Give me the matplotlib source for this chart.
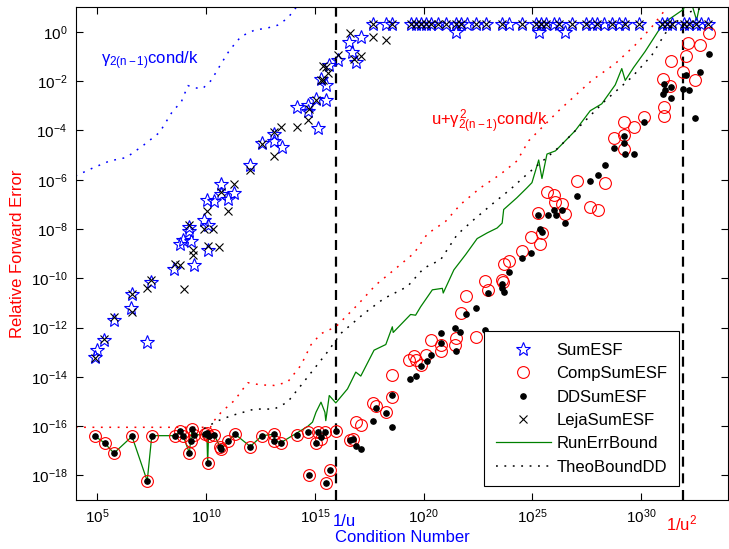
import matplotlib
matplotlib.use("Agg")
import matplotlib.pyplot as plt
import numpy as np
from matplotlib.ticker import NullLocator

# all values are log10(condition number) / log10(relative forward error),
# read off the original figure

# SumESF (blue stars)
sum_cond = [4.88, 5.00, 5.30, 7.29, 5.76, 6.56, 6.61, 7.48, 8.51, 8.78, 8.94, 9.22,
            9.23, 9.31, 9.42, 9.92, 10.07, 10.07, 10.03, 10.38, 10.69, 10.69, 11.02,
            11.30, 12.03, 12.55, 13.13, 13.13, 13.47, 14.17, 14.66, 14.66, 15.15,
            15.06, 15.28, 15.50, 15.50, 15.66, 16.04, 16.57, 16.72, 16.88, 17.11,
            21.51, 25.29, 26.51,
            17.67, 18.27, 18.54, 19.42, 19.65, 19.88, 20.10, 20.33, 20.66, 21.02,
            21.48, 21.71, 21.99, 22.40, 22.86, 23.59, 23.92, 24.51, 25.16, 25.39,
            25.62, 25.98, 26.21, 26.81, 27.45, 27.73, 27.96, 28.28, 28.64, 28.96,
            29.24, 29.88, 30.94, 31.17, 31.40, 31.95, 32.18, 32.50, 32.77, 33.09]
sum_err = [-13.20, -12.92, -12.51, -12.58, -11.70, -11.22, -10.64, -10.16, -9.63, -8.61,
           -8.43, -8.09, -7.90, -8.47, -9.45, -7.64, -7.82, -8.84, -6.83, -6.87, -6.16,
           -6.60, -6.78, -6.53, -5.40, -4.53, -4.15, -4.42, -4.67, -3.06, -2.96, -3.20,
           -3.92, -2.72, -1.90, -2.15, -2.76, -1.36, -1.13, -0.41, -0.82, -1.22, -0.20,
           -0.02, -0.02, -0.02,
           0.33, 0.33, 0.33, 0.33, 0.33, 0.33, 0.33, 0.33, 0.33, 0.33,
           0.33, 0.33, 0.33, 0.33, 0.33, 0.33, 0.33, 0.33, 0.33, 0.33,
           0.33, 0.33, 0.33, 0.33, 0.33, 0.33, 0.33, 0.33, 0.33, 0.33,
           0.33, 0.33, 0.33, 0.33, 0.33, 0.33, 0.33, 0.33, 0.33, 0.33]

# CompSumESF (red circles)
comp_cond = [4.91, 5.33, 5.76, 6.59, 7.29, 7.50, 8.55, 8.79, 8.94, 9.23, 9.28, 9.36,
             9.43, 9.95, 10.03, 10.07, 10.11, 10.38, 10.64, 10.69, 11.02, 11.33, 12.03,
             12.57, 13.13, 13.13, 13.44, 14.17, 14.66, 14.74, 15.12, 15.05, 15.30,
             15.46, 15.50, 15.70, 15.97,
             16.62, 16.77, 16.88, 17.11, 17.69, 17.80, 18.26, 18.56, 18.56, 19.33,
             19.56, 19.63, 19.86, 20.12, 20.35, 20.78, 20.81, 21.42, 21.51, 22.39,
             21.95, 21.70, 22.84, 22.96, 23.61, 23.64, 23.68, 23.91, 24.52, 24.95,
             25.37, 25.44, 25.24, 25.67, 26.01, 26.06, 26.36, 26.51, 27.05, 27.66,
             28.01, 28.32, 28.73, 29.23, 29.65, 29.23, 29.20, 30.11, 31.02, 31.33,
             31.38, 31.07, 31.07, 31.94, 32.05, 32.17, 32.48, 32.71, 33.12]
comp_err = [-16.42, -16.69, -17.10, -16.42, -18.23, -16.39, -16.39, -16.22, -16.39,
            -17.10, -16.61, -16.12, -16.37, -16.33, -16.28, -17.51, -16.39, -16.37,
            -16.86, -16.94, -16.61, -16.33, -16.83, -16.39, -16.33, -16.60, -16.67,
            -16.37, -16.26, -18.00, -16.26, -16.67, -16.53, -16.26, -18.33, -17.80,
            -16.20,
            -16.56, -16.53, -15.85, -15.96, -15.07, -15.20, -15.44, -13.94, -14.84,
            -13.33, -13.16, -13.33, -13.53, -13.13, -12.51, -12.72, -12.96, -12.69,
            -12.42, -12.38, -10.71, -11.43, -10.11, -10.47, -10.07, -10.16, -9.43,
            -9.32, -8.88, -8.34, -8.61, -8.16, -7.37, -6.50, -6.62, -6.90, -6.98,
            -7.39, -6.05, -7.11, -7.25, -6.12, -4.31, -3.67, -3.88, -4.18, -4.76,
            -3.47, -1.93, -2.18, -1.18, -3.03, -3.40, -1.63, -0.99, -0.47, -1.94,
            -0.54, -0.03]

# DDSumESF (black dots)
dd_cond = [4.91, 5.33, 5.76, 6.59, 7.29, 7.50, 8.55, 8.79, 8.94, 9.23, 9.28, 9.36,
           9.43, 9.95, 10.03, 10.07, 10.11, 10.38, 10.64, 10.69, 11.02, 11.33, 12.03,
           12.57, 13.13, 13.13, 13.44, 14.17, 14.66, 14.74, 15.12, 15.05, 15.28,
           15.46, 15.50, 15.70, 15.97,
           16.62, 16.77, 16.88, 17.11, 17.69, 17.80, 18.26, 18.56, 18.56, 19.37,
           19.63, 19.86, 20.14, 20.35, 20.81, 20.81, 21.51, 21.67, 21.44, 21.95,
           22.39, 22.84, 22.96, 23.58, 23.61, 23.68, 23.91, 24.52, 24.95, 25.37,
           25.44, 25.24, 25.70, 26.01, 26.08, 26.36, 26.51, 27.05, 27.66, 28.00,
           28.35, 28.73, 29.23, 29.23, 29.27, 29.65, 30.11, 31.07, 31.10, 31.02,
           31.38, 31.38, 31.94, 32.05, 32.20, 32.48, 32.71, 33.12]
dd_err = [-16.42, -16.69, -17.10, -16.42, -18.23, -16.39, -16.39, -16.22, -16.39,
          -17.10, -16.61, -16.12, -16.37, -16.33, -16.28, -17.51, -16.39, -16.37,
          -16.86, -16.94, -16.61, -16.33, -16.83, -16.39, -16.33, -16.60, -16.67,
          -16.37, -16.26, -18.00, -16.26, -16.67, -16.45, -16.26, -18.33, -17.80,
          -16.20,
          -16.56, -16.53, -16.80, -16.92, -15.81, -15.25, -15.48, -14.72, -16.05,
          -14.08, -13.98, -13.56, -13.37, -13.10, -12.61, -12.24, -12.96, -12.17,
          -12.01, -11.47, -11.20, -12.11, -10.61, -10.24, -10.38, -10.57, -9.73,
          -9.16, -8.98, -8.02, -8.12, -7.44, -7.44, -7.25, -7.44, -7.25, -7.76,
          -6.67, -6.05, -5.81, -5.40, -4.72, -4.22, -4.53, -4.94, -4.94, -3.67,
          -2.13, -2.35, -2.54, -2.22, -2.68, -2.31, -1.77, -2.35, -3.49, -1.63,
          -0.88]

# LejaSumESF (black crosses)
leja_cond = [4.91, 5.30, 5.76, 6.59, 6.59, 7.29, 7.48, 8.55, 8.79, 8.96, 9.23, 9.39,
             9.39, 9.92, 10.33, 10.07, 10.61, 10.05, 10.69, 11.02, 11.30, 12.03,
             12.55, 13.13, 13.13, 13.44, 14.17, 14.66, 14.75, 15.05, 15.35, 15.28,
             15.39, 15.58, 15.50, 16.04, 16.62, 16.80, 17.11, 17.69, 18.26,
             17.67, 18.54, 19.42, 19.65, 19.88, 20.10, 20.33, 20.66, 21.02, 21.48,
             21.71, 22.40, 22.86, 23.59, 24.51, 25.16, 25.39, 25.62, 26.21, 26.81,
             27.45, 27.96, 28.64, 29.24, 29.88, 30.94, 31.17, 31.40, 31.95, 32.18,
             32.50, 33.09]
leja_err = [-13.24, -12.47, -11.56, -10.65, -11.39, -10.38, -10.07, -9.43, -9.48,
            -10.42, -7.82, -8.84, -9.07, -8.02, -8.02, -8.71, -8.73, -7.28, -6.49,
            -7.28, -6.16, -5.62, -4.56, -4.08, -5.03, -3.85, -3.88, -3.58, -3.13,
            -2.76, -1.40, -1.97, -1.97, -1.67, -1.43, -0.92, -0.04, -1.09, -0.99,
            -0.20, -0.34,
            0.33, 0.33, 0.33, 0.33, 0.33, 0.33, 0.33, 0.33, 0.33, 0.33,
            0.33, 0.33, 0.33, 0.33, 0.33, 0.33, 0.33, 0.33, 0.33, 0.33,
            0.33, 0.33, 0.33, 0.33, 0.33, 0.33, 0.33, 0.33, 0.33, 0.33,
            0.33, 0.33]

# RunErrBound (green line)
run_cond = [4.91, 5.33, 5.76, 6.59, 7.29, 7.50, 8.55, 8.79, 8.94, 9.23, 9.28, 9.36,
            9.43, 9.95, 10.03, 10.07, 10.11, 10.38, 10.64, 10.69, 11.02, 11.33,
            12.03, 12.57, 13.13, 13.13, 13.44, 14.66, 14.89, 15.05, 15.28, 15.46,
            15.50, 15.66, 15.96, 16.50, 16.88, 17.11, 17.72, 18.26, 18.56, 18.60,
            19.40, 19.63, 19.86, 20.40, 20.86, 20.90, 21.39, 21.93, 22.46, 22.92,
            23.38, 23.61, 23.68, 24.29, 24.75, 24.98, 25.29, 25.44, 25.67, 26.06,
            26.97, 27.66, 28.19, 28.81, 29.11, 29.27, 29.65, 30.18, 31.02, 31.94,
            32.20, 32.55, 32.80]
run_err = [-16.42, -16.69, -17.10, -16.42, -18.23, -16.39, -16.39, -16.22, -16.39,
           -17.10, -16.61, -16.12, -16.37, -16.33, -16.28, -17.51, -16.39, -16.37,
           -16.86, -16.94, -16.61, -16.33, -16.83, -16.39, -16.33, -16.60, -16.67,
           -16.02, -15.84, -15.44, -15.03, -15.44, -15.78, -14.76, -15.06, -14.49,
           -13.81, -13.97, -12.92, -12.69, -11.97, -12.20, -11.47, -11.50, -11.16,
           -10.47, -10.41, -10.60, -9.66, -9.04, -8.39, -8.16, -7.96, -7.76, -7.21,
           -6.73, -6.33, -6.12, -5.20, -5.95, -4.96, -4.83, -4.01, -3.20, -2.92,
           -2.15, -1.49, -1.97, -1.45, -0.80, 0.35, 0.91, 1.50, 0.48, 1.50]

# TheoBoundDD (black dotted)
theo_cond = [9.90, 10.50, 11.15, 12.22, 13.13, 13.74, 14.36, 14.97, 15.58, 16.19,
             17.26, 18.18, 19.25, 20.01, 20.78, 21.54, 22.31, 23.22, 23.99, 24.75,
             26.21, 27.12, 28.35, 29.57, 30.49, 31.10, 32.02, 32.78]
theo_err = [-16.10, -15.80, -15.58, -15.31, -15.31, -15.03, -14.35, -13.67, -12.99,
            -12.24, -11.43, -10.82, -10.34, -9.59, -9.25, -8.23, -7.62, -6.94, -6.39,
            -5.78, -4.69, -3.88, -2.79, -1.84, -0.95, -0.07, 0.75, 0.96]

# u + gamma^2 cond/k (red dotted)
comp_bound_cond = [4.00, 10.20, 10.30, 10.69, 11.30, 11.91, 12.52, 13.13, 13.74, 14.36,
                   14.82, 15.28, 15.96, 16.95, 17.80, 18.64, 19.56, 20.17, 21.01,
                   21.70, 22.61, 23.53, 24.29, 24.83, 26.21, 27.73, 28.81, 29.72,
                   30.49, 31.10, 31.50]
comp_bound_err = [-16.05, -16.05, -15.85, -15.44, -14.96, -14.24, -14.33, -14.35,
                  -14.22, -13.53, -12.70, -12.25, -11.97, -11.09, -10.27, -9.66,
                  -8.98, -8.20, -7.69, -7.00, -6.33, -5.78, -5.24, -4.42, -3.20,
                  -1.97, -1.29, -0.54, 0.20, 0.89, 1.30]

# gamma cond/k (blue dotted)
sum_bound_cond = [3.99, 4.80, 5.56, 6.33, 7.09, 7.86, 8.47, 8.85, 9.16, 9.46, 9.84,
                  10.23, 10.69, 11.07, 11.61, 12.22, 12.83, 13.28, 13.74, 14.05, 14.28]
sum_bound_err = [-5.85, -5.52, -5.24, -5.10, -4.62, -4.08, -3.20, -2.86, -2.18, -2.27,
                 -2.30, -1.97, -1.29, -0.75, -0.18, 0.07, 0.16, 0.27, 0.55, 0.89, 1.17]

u = 2.0 ** -53

x_ticks = [1e5, 1e10, 1e15, 1e20, 1e25, 1e30]
y_ticks = [1e0, 1e-2, 1e-4, 1e-6, 1e-8, 1e-10, 1e-12, 1e-14, 1e-16, 1e-18]


def p(values):
    return 10.0 ** np.asarray(values)


plt.rcParams["font.family"] = ["Liberation Sans", "DejaVu Sans"]
plt.rcParams["mathtext.fontset"] = "custom"
plt.rcParams["mathtext.rm"] = "Liberation Sans"
plt.rcParams["mathtext.it"] = "Liberation Sans"
plt.rcParams["mathtext.bf"] = "Liberation Sans:bold"

fig = plt.figure(figsize=(7.29, 5.49), dpi=100)
ax = fig.add_axes([0.1038, 0.0893, 0.8950, 0.8975])

ax.plot(p(sum_cond), p(sum_err), ls="none", marker="*", ms=10, mfc="none",
        mec="blue", mew=0.8, label="SumESF")
ax.plot(p(comp_cond), p(comp_err), ls="none", marker="o", ms=8.5, mfc="none",
        mec="red", mew=0.8, label="CompSumESF")
ax.plot(p(dd_cond), p(dd_err), ls="none", marker="o", ms=3.8, mfc="black",
        mec="black", label="DDSumESF", zorder=3)
ax.plot(p(leja_cond), p(leja_err), ls="none", marker="x", ms=6, mec="black",
        mew=0.8, label="LejaSumESF")
ax.plot(p(run_cond), p(run_err), color="green", lw=0.9, label="RunErrBound",
        zorder=1.8)
ax.plot(p(theo_cond), p(theo_err), color="black", lw=1.1, ls=(0, (1.2, 4.3)),
        label="TheoBoundDD")
ax.plot(p(comp_bound_cond), p(comp_bound_err), color="red", lw=1.1,
        ls=(0, (1.2, 4.3)))
ax.plot(p(sum_bound_cond), p(sum_bound_err), color="blue", lw=1.1,
        ls=(0, (1.2, 4.3)))

ax.axvline(1 / u, color="black", lw=1.6, ls=(0, (4.5, 3)), zorder=1)
ax.axvline(1 / u ** 2, color="black", lw=1.6, ls=(0, (4.5, 3)), zorder=1)

ax.set_xscale("log")
ax.set_yscale("log")
ax.set_xlim(1e4, 1e34)
ax.set_ylim(1e-19, 1e1)
ax.set_xticks(x_ticks)
ax.set_yticks(y_ticks)
ax.xaxis.set_minor_locator(NullLocator())
ax.yaxis.set_minor_locator(NullLocator())
ax.tick_params(direction="in", length=5, width=0.8, top=True, right=True,
               labelsize=11)
ax.tick_params(axis="x", pad=5)
ax.tick_params(axis="y", pad=6)
for s in ax.spines.values():
    s.set_linewidth(0.8)

ax.set_xlabel("Condition Number", color="blue", fontsize=12, labelpad=3)
ax.set_ylabel("Relative Forward Error", color="red", fontsize=12, labelpad=4)

ax.annotate("1/u", xy=(1 / u, 0), xycoords=("data", "axes fraction"),
            xytext=(6, -10), textcoords="offset points", ha="center", va="top",
            color="blue", fontsize=12)
ax.annotate("1/u$^2$", xy=(1 / u ** 2, 0), xycoords=("data", "axes fraction"),
            xytext=(-1, -10), textcoords="offset points", ha="center", va="top",
            color="red", fontsize=12)

ax.text(10 ** 5.15, 10 ** -1.33, r"$\gamma_{2(n-1)}$cond/k", color="blue",
        fontsize=12, va="baseline")
ax.text(10 ** 20.33, 10 ** -3.83, r"u+$\gamma^2_{2(n-1)}$cond/k", color="red",
        fontsize=12, va="baseline")

leg = ax.legend(loc="lower right", bbox_to_anchor=(0.925, 0.028), fontsize=12,
                handlelength=3.3, handletextpad=0.35, labelspacing=0.5,
                borderpad=0.7, borderaxespad=0, fancybox=False, framealpha=1,
                edgecolor="black")
leg.get_frame().set_linewidth(0.8)

fig.savefig("out.png", dpi=100)
